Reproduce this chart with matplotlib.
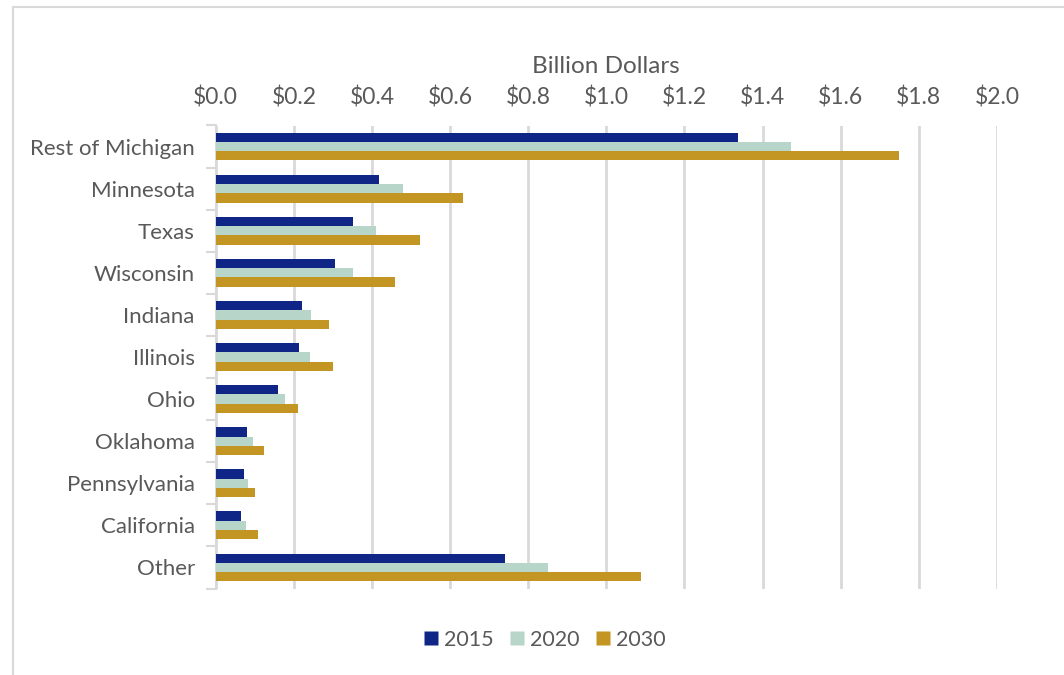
import numpy as np
import matplotlib
matplotlib.use("Agg")
import matplotlib.pyplot as plt
from matplotlib.lines import Line2D

plt.rcParams['font.family'] = ['Lato', 'DejaVu Sans']

# Economic output by destination, billion dollars
regions = ['Rest of Michigan', 'Minnesota', 'Texas', 'Wisconsin', 'Indiana',
           'Illinois', 'Ohio', 'Oklahoma', 'Pennsylvania', 'California', 'Other']
val_2015 = [1.338, 0.417, 0.352, 0.305, 0.220, 0.212, 0.160, 0.081, 0.073, 0.066, 0.740]
val_2020 = [1.473, 0.480, 0.410, 0.352, 0.244, 0.241, 0.177, 0.096, 0.082, 0.078, 0.850]
val_2030 = [1.748, 0.632, 0.523, 0.458, 0.290, 0.300, 0.211, 0.124, 0.101, 0.108, 1.089]
years = ['2015', '2020', '2030']
colors = ['#0f2687', '#b8d5ca', '#c39522']
x_ticks = np.arange(0, 2.01, 0.2)

text_col = '#595959'
grid_col = '#d9d9d9'

fig = plt.figure(figsize=(10.64, 6.75), dpi=100)
ax = fig.add_axes([215.7 / 1064, 1 - 588.5 / 675, (997 - 215.7) / 1064, 463 / 675])

y = np.arange(len(regions))
h = 0.221
for k, (vals, col) in enumerate(zip([val_2015, val_2020, val_2030], colors)):
    ax.barh(y + (k - 1) * h, vals, height=h, color=col, zorder=3)

ax.set_xlim(0, 2.0)
ax.set_ylim(len(regions) - 0.5, -0.5)
ax.xaxis.tick_top()
ax.xaxis.set_label_position('top')
ax.set_xticks(x_ticks)
ax.set_xticklabels([f'${v:.1f}' for v in x_ticks])
ax.set_xlabel('Billion Dollars', fontsize=17.5, color=text_col, labelpad=10)
ax.tick_params(axis='x', length=0, labelsize=16.5, labelcolor=text_col, pad=12)

ax.set_yticks(y)
ax.set_yticklabels(regions)
ax.set_yticks(np.arange(-0.5, len(regions)), minor=True)
ax.tick_params(axis='y', which='major', length=0, labelsize=16, labelcolor=text_col, pad=15)
ax.tick_params(axis='y', which='minor', length=7, width=1.5, color=grid_col)

ax.grid(axis='x', color=grid_col, linewidth=2, zorder=0)
for side in ['top', 'right', 'bottom']:
    ax.spines[side].set_visible(False)
ax.spines['left'].set_color(grid_col)
ax.spines['left'].set_linewidth(1.5)

handles = [Line2D([], [], linestyle='none', marker='s', markersize=10,
                  markerfacecolor=c, markeredgecolor='none') for c in colors]
fig.legend(handles, years, loc='center', bbox_to_anchor=(545 / 1064, 1 - 640 / 675),
           ncol=3, frameon=False, fontsize=15.5, labelcolor=text_col,
           handlelength=0.6, handletextpad=0.3, columnspacing=0.8)

# chart frame
fig.add_artist(Line2D([13 / 1064, 13 / 1064], [0, 1 - 7 / 675], color=grid_col, linewidth=1.5))
fig.add_artist(Line2D([13 / 1064, 1], [1 - 7 / 675, 1 - 7 / 675], color=grid_col, linewidth=1.5))

fig.savefig('out.png', dpi=100)
